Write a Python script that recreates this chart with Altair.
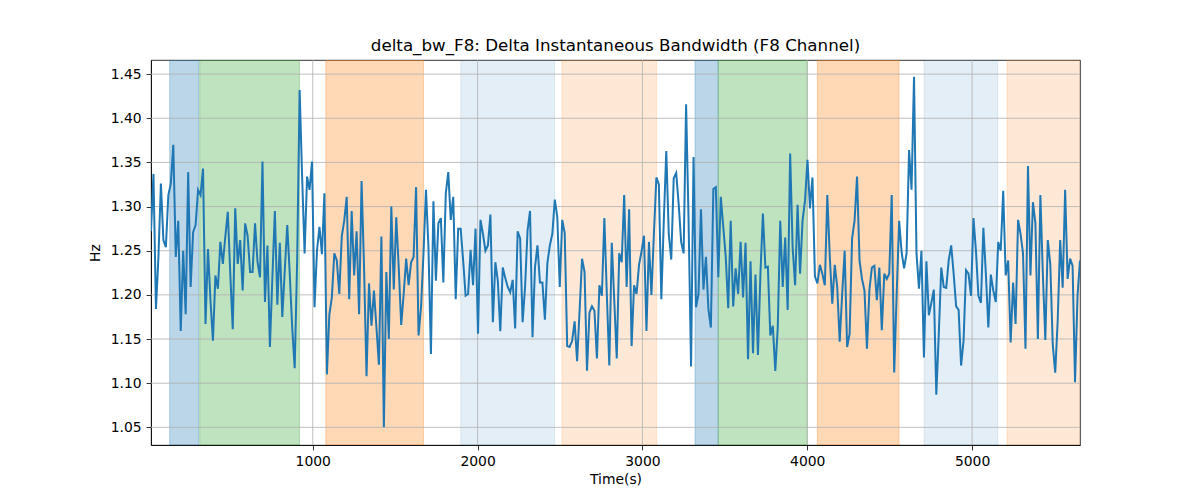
import altair as alt
import pandas as pd

# ---- data ----
T_START = 18.5      # first sample time (s)
T_STEP = 15.03      # sampling step (s)

delta_bw = [
    1.272, 1.337, 1.184, 1.243, 1.326, 1.262, 1.254, 1.313, 1.326, 1.370,
    1.243, 1.284, 1.159, 1.250, 1.178, 1.339, 1.209, 1.271, 1.279, 1.319,
    1.313, 1.343, 1.167, 1.252, 1.194, 1.148, 1.222, 1.207, 1.260, 1.235,
    1.266, 1.294, 1.224, 1.161, 1.298, 1.235, 1.262, 1.205, 1.281, 1.267,
    1.226, 1.226, 1.281, 1.237, 1.220, 1.351, 1.192,
    1.256, 1.141, 1.220, 1.295, 1.189, 1.259, 1.175, 1.228, 1.279, 1.224,
    1.163, 1.117, 1.239, 1.432, 1.334, 1.247, 1.334, 1.319, 1.351, 1.186,
    1.250, 1.277, 1.246, 1.315, 1.110, 1.178, 1.197, 1.247, 1.239, 1.201,
    1.266, 1.284, 1.311, 1.195, 1.295, 1.222, 1.272, 1.178, 1.329, 1.231,
    1.108, 1.213, 1.165, 1.205, 1.163, 1.121, 1.266, 1.050,
    1.226, 1.150, 1.300, 1.206, 1.288, 1.231, 1.166, 1.201, 1.241, 1.211,
    1.237, 1.243, 1.322, 1.154, 1.186, 1.247, 1.319, 1.254, 1.133, 1.306,
    1.216, 1.281, 1.287, 1.214, 1.315, 1.339, 1.285, 1.311, 1.195, 1.275,
    1.275, 1.239, 1.199, 1.201, 1.251, 1.211, 1.275, 1.156, 1.285, 1.269,
    1.250, 1.256, 1.291, 1.169, 1.237, 1.216, 1.159,
    1.231, 1.219, 1.209, 1.203, 1.217, 1.162, 1.272, 1.264, 1.169, 1.209,
    1.273, 1.295, 1.152, 1.231, 1.256, 1.214, 1.214, 1.172, 1.236, 1.256,
    1.269, 1.308, 1.288, 1.209, 1.285, 1.270, 1.142, 1.141, 1.148, 1.170,
    1.125, 1.182, 1.241, 1.226, 1.114, 1.180, 1.187, 1.182, 1.128, 1.211,
    1.199, 1.287, 1.201, 1.120, 1.259, 1.194, 1.128,
    1.247, 1.237, 1.313, 1.209, 1.297, 1.142, 1.211, 1.201, 1.234, 1.249,
    1.267, 1.159, 1.260, 1.200, 1.269, 1.333, 1.325, 1.195, 1.284, 1.363,
    1.269, 1.240, 1.332, 1.338, 1.303, 1.260, 1.247, 1.416, 1.284, 1.119,
    1.356, 1.186, 1.201, 1.297, 1.206, 1.243, 1.184, 1.163, 1.320, 1.322,
    1.220, 1.311, 1.277, 1.243, 1.185, 1.284, 1.187,
    1.230, 1.201, 1.260, 1.197, 1.259, 1.127, 1.238, 1.134, 1.223, 1.132,
    1.224, 1.292, 1.231, 1.232, 1.154, 1.165, 1.114, 1.163, 1.284, 1.209,
    1.265, 1.183, 1.360, 1.254, 1.211, 1.302, 1.224, 1.284, 1.307, 1.353,
    1.298, 1.333, 1.221, 1.213, 1.234, 1.224, 1.211, 1.313, 1.243, 1.190,
    1.234, 1.209, 1.147, 1.201, 1.250, 1.141, 1.156, 1.264,
    1.284, 1.334, 1.239, 1.218, 1.205, 1.139, 1.206, 1.231, 1.233, 1.194,
    1.231, 1.160, 1.224, 1.218, 1.224, 1.313, 1.112, 1.201, 1.284, 1.248,
    1.230, 1.247, 1.364, 1.319, 1.447, 1.247, 1.207, 1.250, 1.129, 1.238,
    1.177, 1.191, 1.206, 1.087, 1.156, 1.231, 1.209, 1.208, 1.239, 1.256,
    1.224, 1.187, 1.183, 1.120, 1.148, 1.228, 1.224,
    1.199, 1.287, 1.250, 1.199, 1.191, 1.276, 1.224, 1.163, 1.223, 1.205,
    1.192, 1.260, 1.250, 1.318, 1.222, 1.239, 1.146, 1.214, 1.167, 1.285,
    1.269, 1.247, 1.139, 1.346, 1.222, 1.305, 1.281, 1.150, 1.313, 1.224,
    1.149, 1.262, 1.235, 1.144, 1.112, 1.171, 1.262, 1.208, 1.319, 1.218,
    1.241, 1.233, 1.101, 1.199, 1.239,
]

span_start = [132, 314, 1079, 1898, 2511, 3319, 3460, 4061, 4709, 5212]
span_end = [308, 919, 1672, 2467, 3086, 3460, 4000, 4557, 5156, 5700]
span_color = ["#1f77b4", "#2ca02c", "#ff7f0e", "#1f77b4", "#ff7f0e",
              "#1f77b4", "#2ca02c", "#ff7f0e", "#1f77b4", "#ff7f0e"]
span_alpha = [0.3, 0.3, 0.3, 0.12, 0.17, 0.3, 0.3, 0.3, 0.12, 0.17]

x_ticks = [1000, 2000, 3000, 4000, 5000]
y_ticks = [1.05, 1.10, 1.15, 1.20, 1.25, 1.30, 1.35, 1.40, 1.45]

TITLE = "delta_bw_F8: Delta Instantaneous Bandwidth (F8 Channel)"

# ---- tables ----
time = [T_START + i * T_STEP for i in range(len(delta_bw))]
line_df = pd.DataFrame({"time": time, "value": delta_bw})
span_df = pd.DataFrame({"start": span_start, "end": span_end,
                        "color": span_color, "alpha": span_alpha})
xgrid_df = pd.DataFrame({"time": x_ticks})
ygrid_df = pd.DataFrame({"value": y_ticks})

x_dom = [min(time), max(time)]
y_dom = [1.030, 1.466]
xs = alt.Scale(domain=x_dom, nice=False, zero=False)
ys = alt.Scale(domain=y_dom, nice=False, zero=False)
x_axis = alt.Axis(title="Time(s)", values=x_ticks, format="d", grid=False)
y_axis = alt.Axis(title="Hz", values=y_ticks, format=".2f", grid=False)

FONT = "DejaVu Sans"

spans = alt.Chart(span_df).mark_rect(clip=True, strokeWidth=1).encode(
    x=alt.X("start:Q", scale=xs, axis=x_axis, title="Time(s)"),
    x2="end:Q",
    fill=alt.Fill("color:N", scale=None),
    stroke=alt.Stroke("color:N", scale=None),
    fillOpacity=alt.FillOpacity("alpha:Q", scale=None),
    strokeOpacity=alt.StrokeOpacity("alpha:Q", scale=None),
)

xgrid = alt.Chart(xgrid_df).mark_rule(color="#b0b0b0", strokeWidth=0.8).encode(
    x=alt.X("time:Q", scale=xs, axis=x_axis, title="Time(s)")
)
ygrid = alt.Chart(ygrid_df).mark_rule(color="#b0b0b0", strokeWidth=0.8).encode(
    y=alt.Y("value:Q", scale=ys, axis=y_axis, title="Hz")
)

line = alt.Chart(line_df).mark_line(color="#1f77b4", strokeWidth=2.0, clip=True).encode(
    x=alt.X("time:Q", scale=xs, axis=x_axis, title="Time(s)"),
    y=alt.Y("value:Q", scale=ys, axis=y_axis, title="Hz"),
)

chart = alt.layer(spans, xgrid, ygrid, line).properties(
    width=929,
    height=385,
    autosize=alt.AutoSizeParams(type="none"),
    padding={"left": 143, "top": 52, "right": 100, "bottom": 45},
    title=alt.TitleParams(TITLE, font=FONT, fontSize=16.7, fontWeight="normal",
                          color="black", anchor="middle", baseline="alphabetic",
                          offset=8, dy=16),
).configure_axis(
    labelFont=FONT, labelFontSize=13.9, labelColor="black",
    titleFont=FONT, titleFontSize=13.9, titleFontWeight="normal", titleColor="black",
    tickColor="black", tickSize=4.9, tickWidth=0.8, labelPadding=4.9,
    domainColor="black", domainWidth=0.8, labelFlush=False,
).configure_axisX(titlePadding=4).configure_axisY(titlePadding=8).configure_view(
    stroke="black", strokeWidth=0.8
)

chart.save("out.html", embed_options={"renderer": "svg", "actions": False})
